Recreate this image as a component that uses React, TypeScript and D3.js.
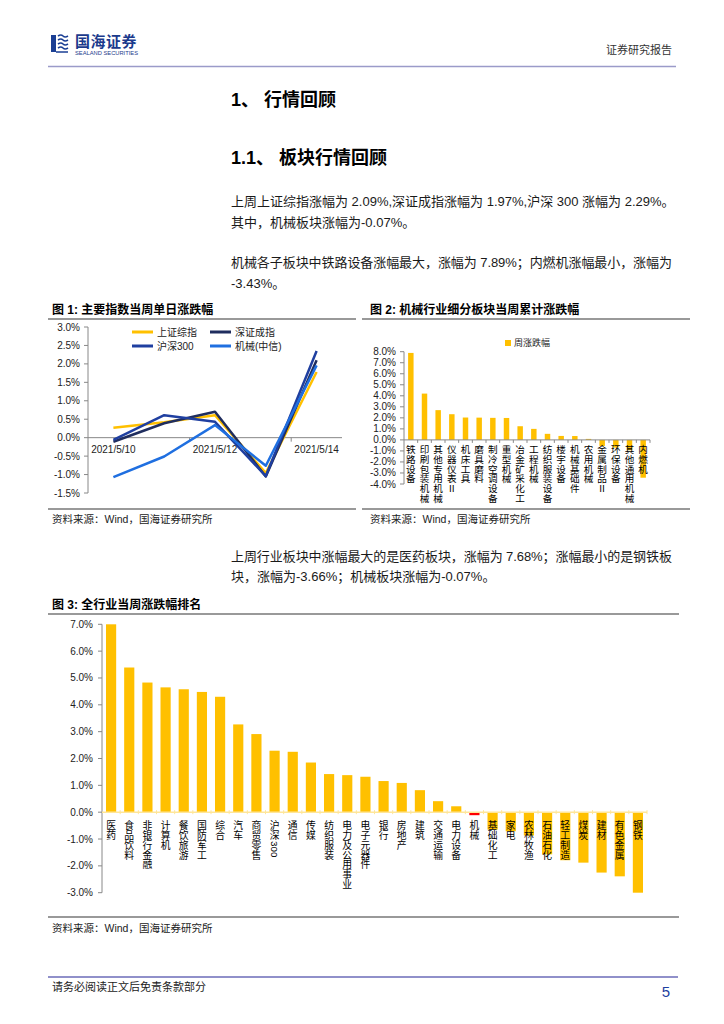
import React from 'react';
import * as d3 from 'd3';

const FONT = "'Liberation Sans', Arial, 'Noto Sans CJK SC', sans-serif";
const CJK = "'Noto Sans CJK SC', 'Liberation Sans', sans-serif";

// ---------- Chart 1: daily moves of main indices ----------
const dates = ['2021/5/10', '2021/5/11', '2021/5/12', '2021/5/13', '2021/5/14'];
const shComposite = [0.27, 0.42, 0.61, -0.96, 1.78];
const szComponent = [-0.11, 0.39, 0.70, -1.05, 2.10];
const hs300 = [-0.06, 0.61, 0.43, -1.04, 2.35];
const machineryCiti = [-1.07, -0.51, 0.34, -0.76, 1.96];
const lineSeriesNames = ['上证综指', '深证成指', '沪深300', '机械(中信)'];
const lineColors = ['#FFC000', '#1F2D5E', '#1F3FA0', '#1F6FE0'];
const lineTicks = [-1.5, -1, -0.5, 0, 0.5, 1, 1.5, 2, 2.5, 3];

// ---------- Chart 2: machinery sub-sectors weekly ----------
const subSectors = ['铁路设备', '印刷包装机械', '其他专用机械', '仪器仪表Ⅱ', '机床工具', '磨具磨料', '制冷空调设备', '重型机械', '冶金矿采化工', '工程机械', '纺织服装设备', '楼宇设备', '机械基础件', '农用机械', '金属制品Ⅱ', '环保设备', '其他通用机械', '内燃机'];
const subValues = [7.89, 4.2, 2.7, 2.33, 2.03, 2.02, 2.0, 1.99, 1.24, 1.0, 0.55, 0.36, 0.35, 0.09, -0.55, -0.7, -0.94, -3.43];
const subTicks = [-4, -3, -2, -1, 0, 1, 2, 3, 4, 5, 6, 7, 8];

// ---------- Chart 3: all industries weekly ----------
const industries = ['医药', '食品饮料', '非银行金融', '计算机', '餐饮旅游', '国防军工', '综合', '汽车', '商贸零售', '沪深300', '通信', '传媒', '纺织服装', '电力及公用事业', '电子元器件', '银行', '房地产', '建筑', '交通运输', '电力设备', '机械', '基础化工', '家电', '农林牧渔', '石油石化', '轻工制造', '煤炭', '建材', '有色金属', '钢铁'];
const industryValues = [7.68, 5.39, 4.83, 4.65, 4.58, 4.48, 4.3, 3.27, 2.91, 2.29, 2.25, 1.85, 1.42, 1.38, 1.32, 1.16, 1.09, 0.82, 0.41, 0.22, -0.07, -0.65, -0.71, -0.87, -1.57, -1.79, -1.88, -2.25, -2.39, -3.66];
const industryTicks = [-3, -2, -1, 0, 1, 2, 3, 4, 5, 6, 7];
const highlightIndustry = '机械';

const fmtPct = (v: number) => `${v.toFixed(1)}%`;
const AXIS = '#888888';

function VLabel({ x, y, text, size, pitch }: { x: number; y: number; text: string; size: number; pitch: number }) {
  const tokens = text.match(/[A-Za-z0-9().]+|./gu) || [];
  let cy = y;
  const out: React.ReactNode[] = [];
  tokens.forEach((t, i) => {
    if (/^[A-Za-z0-9().]+$/.test(t)) {
      const w = t.length * size * 0.556;
      out.push(
        <text key={i} transform={`translate(${x},${cy + w / 2 + 1}) rotate(90)`} textAnchor="middle" dy="0.35em" fontSize={size} fontFamily={FONT}>{t}</text>
      );
      cy += w + 2;
    } else {
      out.push(
        <text key={i} x={x} y={cy + size * 0.88} textAnchor="middle" fontSize={size} fontFamily={CJK}>{t}</text>
      );
      cy += pitch;
    }
  });
  return <g>{out}</g>;
}

function LineChart() {
  const x = d3.scaleBand<string>().domain(dates).range([88, 342]).padding(0);
  const y = d3.scaleLinear().domain([-1.5, 3]).range([493, 327]);
  const series = [shComposite, szComponent, hs300, machineryCiti];
  const line = d3.line<number>().x((_, i) => (x(dates[i]) as number) + x.bandwidth() / 2).y((d) => y(d));
  const boundaries = [2, 4].map((i) => 88 + i * x.bandwidth());
  return (
    <g>
      <line x1={88} x2={88} y1={y(3)} y2={y(-1.5)} stroke={AXIS} strokeWidth={1} />
      {lineTicks.map((t) => (
        <g key={t}>
          <line x1={84} x2={88} y1={y(t)} y2={y(t)} stroke={AXIS} />
          <text x={80} y={y(t)} dy="0.35em" textAnchor="end" fontSize={10} fontFamily={FONT} fill="#222">{fmtPct(t)}</text>
        </g>
      ))}
      <line x1={88} x2={342} y1={y(0)} y2={y(0)} stroke={AXIS} />
      {boundaries.map((bx) => (
        <line key={bx} x1={bx} x2={bx} y1={y(0)} y2={y(0) + 4} stroke={AXIS} />
      ))}
      {dates.map((d, i) => (i % 2 === 0 ? (
        <text key={d} x={(x(d) as number) + x.bandwidth() / 2} y={y(0) + 15} textAnchor="middle" fontSize={10} fontFamily={FONT} fill="#222">{d}</text>
      ) : null))}
      {series.map((s, k) => (
        <path key={k} d={line(s) || ''} fill="none" stroke={lineColors[k]} strokeWidth={2.5} strokeLinejoin="round" />
      ))}
      {lineSeriesNames.map((n, k) => {
        const lx = k % 2 === 0 ? 132 : 210;
        const ly = k < 2 ? 332 : 346;
        return (
          <g key={n}>
            <line x1={lx} x2={lx + 21} y1={ly} y2={ly} stroke={lineColors[k]} strokeWidth={3} />
            <text x={lx + 25} y={ly} dy="0.35em" fontSize={10} fontFamily={FONT} fill="#222">{n}</text>
          </g>
        );
      })}
    </g>
  );
}

function SubSectorChart() {
  const x = d3.scaleBand<string>().domain(subSectors).range([404, 650]).padding(0);
  const y = d3.scaleLinear().domain([-4, 8]).range([484, 351.7]);
  const bw = x.bandwidth() * 0.4;
  return (
    <g>
      <line x1={404} x2={404} y1={y(8)} y2={y(-4)} stroke={AXIS} />
      {subTicks.map((t) => (
        <g key={t}>
          <line x1={400} x2={404} y1={y(t)} y2={y(t)} stroke={AXIS} />
          <text x={396} y={y(t)} dy="0.35em" textAnchor="end" fontSize={10} fontFamily={FONT} fill="#222">{fmtPct(t)}</text>
        </g>
      ))}
      {subSectors.map((s, i) => {
        const v = subValues[i];
        const cx = (x(s) as number) + x.bandwidth() / 2;
        return (
          <rect key={s} x={cx - bw / 2} width={bw} y={Math.min(y(v), y(0))} height={Math.abs(y(v) - y(0))} fill="#FFC000" />
        );
      })}
      <line x1={404} x2={650} y1={y(0)} y2={y(0)} stroke={AXIS} />
      {subSectors.map((s) => (
        <line key={'t' + s} x1={(x(s) as number) + x.bandwidth()} x2={(x(s) as number) + x.bandwidth()} y1={y(0)} y2={y(0) + 3} stroke={AXIS} />
      ))}
      {subSectors.map((s) => (
        <VLabel key={'l' + s} x={(x(s) as number) + x.bandwidth() / 2} y={y(0) + 5} text={s} size={9.6} pitch={9.7} />
      ))}
      <rect x={505} y={340} width={6} height={6} fill="#FFC000" />
      <text x={514} y={343} dy="0.35em" fontSize={9} fontFamily={CJK} fill="#222">周涨跌幅</text>
    </g>
  );
}

function IndustryChart() {
  const x = d3.scaleBand<string>().domain(industries).range([102, 647]).padding(0);
  const y = d3.scaleLinear().domain([-3, 7]).range([892.7, 624.3]).clamp(true);
  const bw = x.bandwidth() * 0.56;
  return (
    <g>
      <line x1={102} x2={102} y1={y(7)} y2={y(-3)} stroke={AXIS} />
      {industryTicks.map((t) => (
        <g key={t}>
          <line x1={98} x2={102} y1={y(t)} y2={y(t)} stroke={AXIS} />
          <text x={93} y={y(t)} dy="0.35em" textAnchor="end" fontSize={10} fontFamily={FONT} fill="#222">{fmtPct(t)}</text>
        </g>
      ))}
      {industries.map((s, i) => {
        const v = industryValues[i];
        const cx = (x(s) as number) + x.bandwidth() / 2;
        const h = Math.max(Math.abs(y(v) - y(0)), 3);
        return (
          <rect key={s} x={cx - bw / 2} width={bw} y={v >= 0 ? y(0) - h : y(0)} height={h} fill={s === highlightIndustry ? '#FF0000' : '#FFC000'} />
        );
      })}
      <line x1={102} x2={647} y1={y(0)} y2={y(0)} stroke="#FFE699" strokeWidth={1.5} />
      {industries.map((s) => (
        <line key={'t' + s} x1={(x(s) as number) + x.bandwidth()} x2={(x(s) as number) + x.bandwidth()} y1={y(0) - 2} y2={y(0) + 2} stroke="#FFE699" />
      ))}
      {industries.map((s) => (
        <VLabel key={'l' + s} x={(x(s) as number) + x.bandwidth() / 2} y={y(0) + 8} text={s} size={9.8} pitch={9.9} />
      ))}
    </g>
  );
}

function Logo() {
  return (
    <g>
      <path d="M51,35 h5 v17 h-5 z" fill="#1B3F94" />
      <path d="M58,36 q3,-2 5,0 t5,0 M58,40 q3,-2 5,0 t5,0 M58,44 q3,-2 5,0 t5,0 M58,48 q3,-2 5,0 t5,0" stroke="#1B3F94" strokeWidth={1.6} fill="none" />
      <path d="M56,52 h12" stroke="#1B3F94" strokeWidth={1.5} />
      <text x={75} y={47} fontSize={15} fontWeight="bold" fontFamily={CJK} fill="#1B3A8C" letterSpacing={0.5}>国海证券</text>
      <text x={75} y={55} fontSize={5.5} fontFamily={FONT} fill="#1B3A8C" textLength={63} lengthAdjust="spacingAndGlyphs">SEALAND SECURITIES</text>
    </g>
  );
}

export default function App() {
  const body = { fontSize: 13, fontFamily: FONT, fill: '#1a1a1a' } as const;
  return (
    <svg width={724} height={1024} style={{ position: 'absolute', left: 0, top: 0, background: '#fff' }} xmlns="http://www.w3.org/2000/svg">
      <rect width={724} height={1024} fill="#fff" />
      <Logo />
      <text x={672} y={54} textAnchor="end" fontSize={11} fontFamily={CJK} fill="#333">证券研究报告</text>
      <line x1={48} x2={676} y1={66.5} y2={66.5} stroke="#9B9BC9" strokeWidth={1.5} />

      <text x={231} y={106} fontSize={18} fontWeight="bold" fontFamily={FONT}>1、 行情回顾</text>
      <text x={231} y={164} fontSize={18} fontWeight="bold" fontFamily={FONT}>1.1、 板块行情回顾</text>

      <text x={231} y={206} {...body}>上周上证综指涨幅为 2.09%,深证成指涨幅为 1.97%,沪深 300 涨幅为 2.29%。</text>
      <text x={231} y={227} {...body}>其中，机械板块涨幅为-0.07%。</text>
      <text x={231} y={267} {...body} textLength={441} lengthAdjust="spacing">机械各子板块中铁路设备涨幅最大，涨幅为 7.89%；内燃机涨幅最小，涨幅为</text>
      <text x={231} y={288} {...body}>-3.43%。</text>

      <text x={52} y={314} fontSize={12} fontWeight="bold" fontFamily={FONT}>图 1:  主要指数当周单日涨跌幅</text>
      <line x1={48} x2={356} y1={319} y2={319} stroke="#777" strokeWidth={1.5} />
      <text x={370} y={314} fontSize={12} fontWeight="bold" fontFamily={FONT}>图 2:  机械行业细分板块当周累计涨跌幅</text>
      <line x1={362} x2={690} y1={319} y2={319} stroke="#777" strokeWidth={1.5} />

      <LineChart />
      <SubSectorChart />

      <line x1={48} x2={356} y1={509} y2={509} stroke="#777" strokeWidth={1.5} />
      <line x1={362} x2={690} y1={509} y2={509} stroke="#777" strokeWidth={1.5} />
      <text x={52} y={523} fontSize={10.5} fontFamily={FONT} fill="#222">资料来源：Wind，国海证券研究所</text>
      <text x={370} y={523} fontSize={10.5} fontFamily={FONT} fill="#222">资料来源：Wind，国海证券研究所</text>

      <text x={231} y={561} {...body} textLength={441} lengthAdjust="spacing">上周行业板块中涨幅最大的是医药板块，涨幅为 7.68%；涨幅最小的是钢铁板</text>
      <text x={231} y={581} {...body}>块，涨幅为-3.66%；机械板块涨幅为-0.07%。</text>

      <text x={52} y={609} fontSize={12} fontWeight="bold" fontFamily={FONT}>图 3:  全行业当周涨跌幅排名</text>
      <line x1={48} x2={679} y1={614} y2={614} stroke="#777" strokeWidth={1.5} />

      <IndustryChart />

      <line x1={48} x2={679} y1={917} y2={917} stroke="#777" strokeWidth={1.5} />
      <text x={52} y={932} fontSize={10.5} fontFamily={FONT} fill="#222">资料来源：Wind，国海证券研究所</text>

      <line x1={48} x2={678} y1={977} y2={977} stroke="#6B6BB8" strokeWidth={1.5} />
      <text x={52} y={991} fontSize={11} fontFamily={CJK} fill="#222">请务必阅读正文后免责条款部分</text>
      <text x={670} y={997} textAnchor="end" fontSize={15} fontFamily={FONT} fill="#1F3FA0">5</text>
    </svg>
  );
}
